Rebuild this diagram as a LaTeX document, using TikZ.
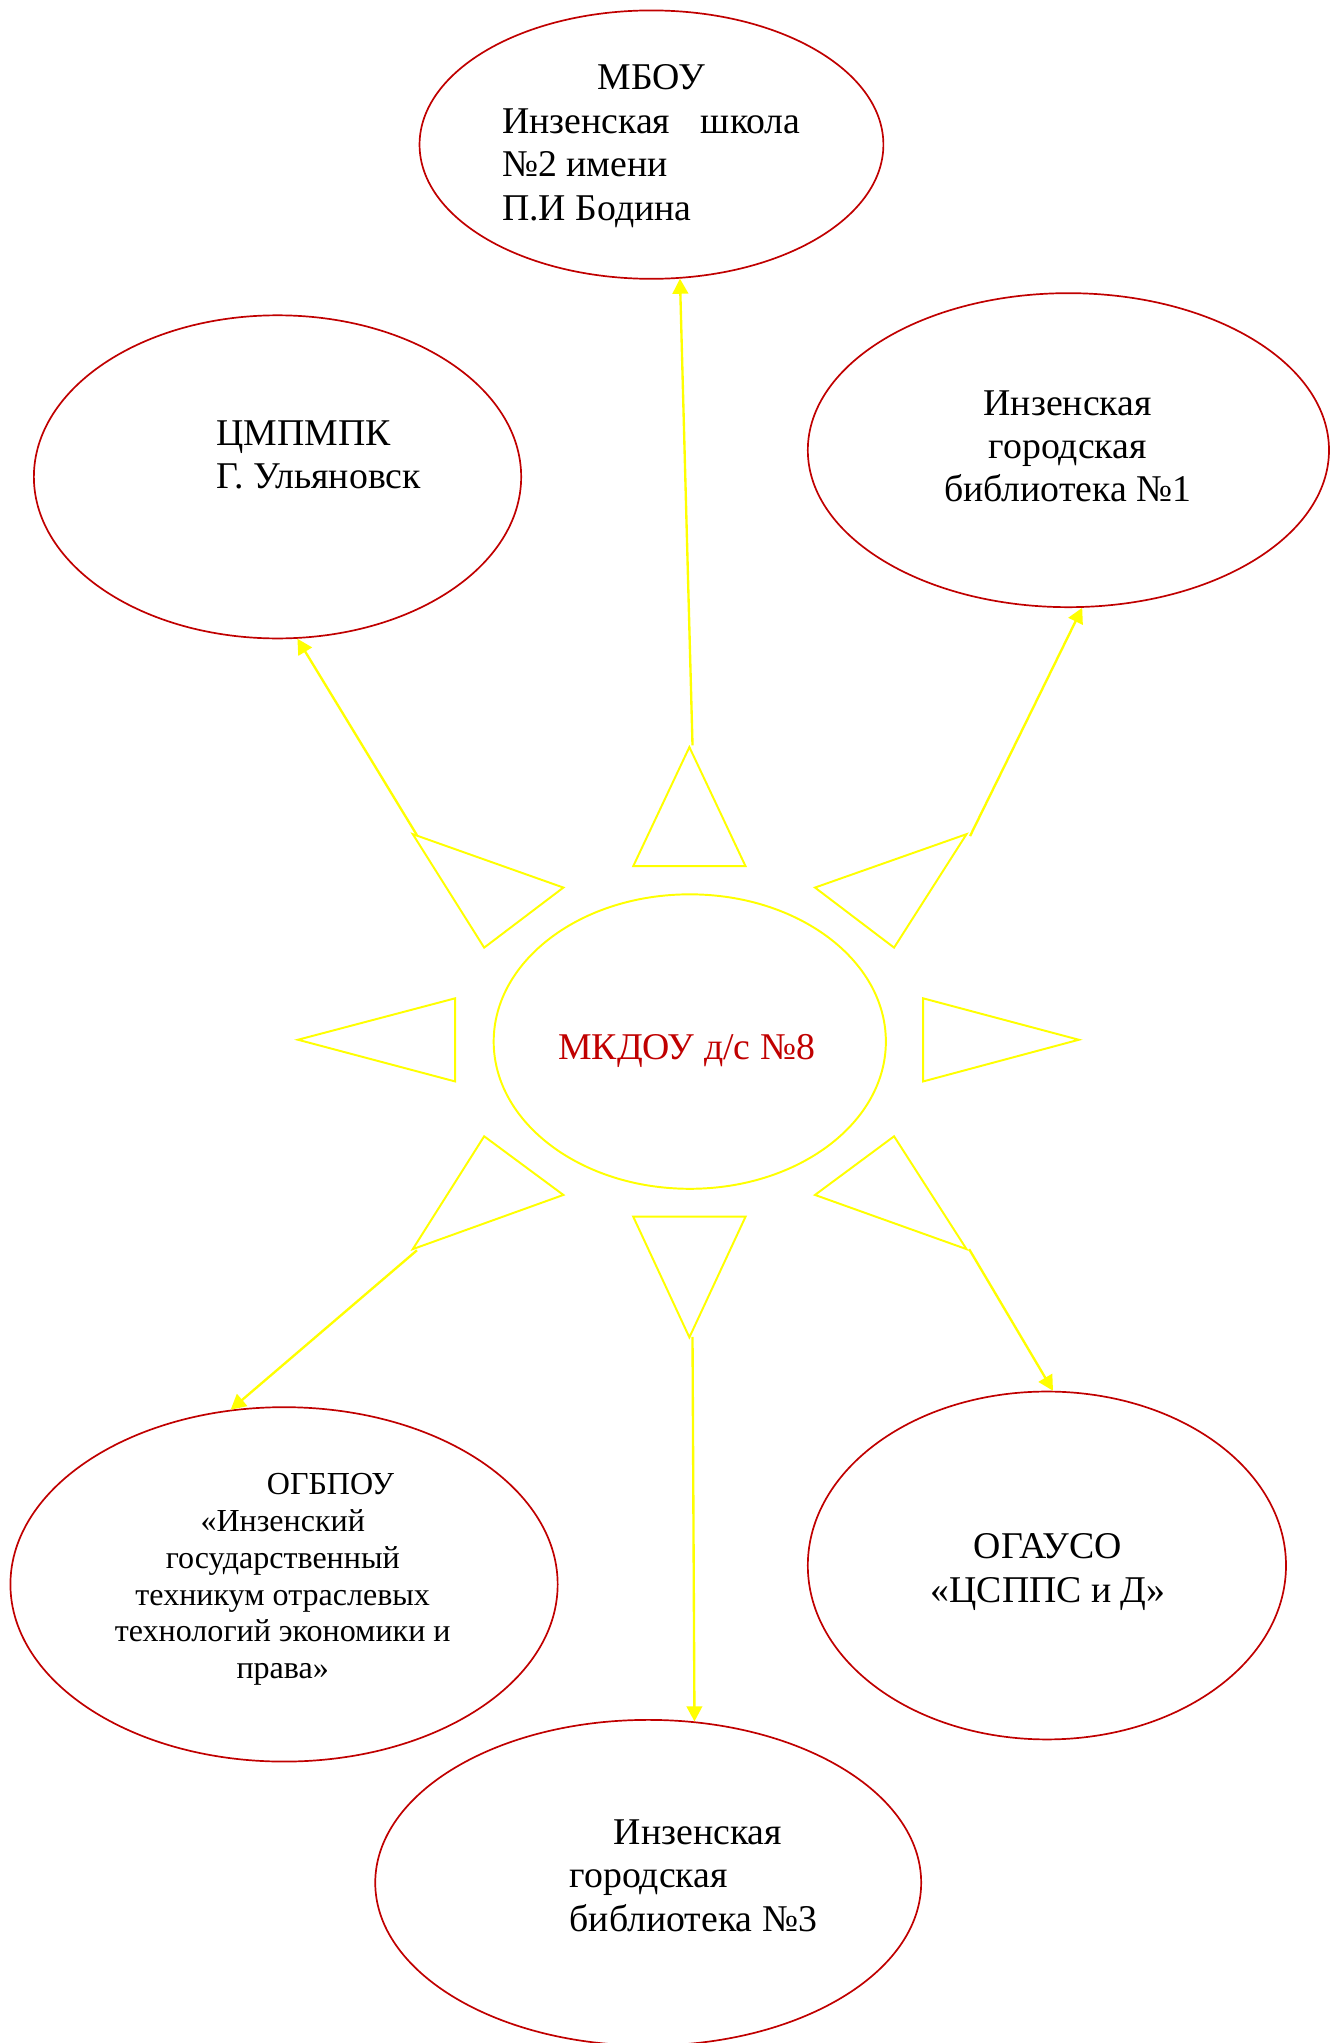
\documentclass[tikz,border=0pt]{standalone}
\usepackage{fontspec}
\setmainfont{Liberation Serif}
\usetikzlibrary{arrows.meta,shapes.geometric}
\definecolor{dred}{RGB}{192,0,0}
\definecolor{sun}{RGB}{255,255,0}
\begin{document}
\begin{tikzpicture}[x=0.5pt,y=0.5pt,
  org/.style={ellipse,draw=dred,line width=0.65pt,inner sep=0pt},
  ray/.style={draw=sun,line width=0.75pt,line join=miter},
  link/.style={draw=sun,line width=0.9pt,-{Triangle[length=5.8pt,width=6pt]}},
  lbl/.style={inner sep=0pt,font=\fontsize{14.5}{16.65}\selectfont},
  slbl/.style={inner sep=0pt,font=\fontsize{12.3}{14.15}\selectfont}]
\useasboundingbox (0,0) rectangle (1021,-1568);

% organisations
\node[org,minimum width=178pt,minimum height=103pt] (mbou) at (500,-111) {};
\node[org,minimum width=187pt,minimum height=124pt] (cmp) at (213,-366) {};
\node[org,minimum width=200pt,minimum height=120.5pt] (lib1) at (820,-345.5) {};
\node[org,minimum width=210pt,minimum height=136pt] (ogb) at (218,-1216) {};
\node[org,minimum width=183.5pt,minimum height=133.5pt] (oga) at (803.5,-1201.5) {};
\node[org,minimum width=209.5pt,minimum height=125pt] (lib3) at (497.5,-1445) {};

% sun
\node[ellipse,draw=sun,line width=0.75pt,inner sep=0pt,minimum width=150.5pt,minimum height=113pt] (sunc) at (529.4,-799.4) {};
\draw[ray] (529.1,-573.4) -- (486,-664.8) -- (572.2,-664.8) -- cycle;
\draw[ray] (316.8,-640.2) -- (432.4,-681.2) -- (371.6,-727.3) -- cycle;
\draw[ray] (741.8,-640.2) -- (625.5,-681.2) -- (686.2,-727.3) -- cycle;
\draw[ray] (228.7,-798) -- (349.3,-766.2) -- (349.3,-830) -- cycle;
\draw[ray] (828,-798) -- (708.5,-766.2) -- (708.5,-830) -- cycle;
\draw[ray] (371.6,-872.1) -- (432.4,-917.1) -- (316.8,-958.7) -- cycle;
\draw[ray] (486,-933.8) -- (572.2,-933.8) -- (529.1,-1026.4) -- cycle;
\draw[ray] (686.2,-872.1) -- (625.5,-917.1) -- (741.8,-958.7) -- cycle;

% ray tips where connectors start
\coordinate (s1) at (531.5,-572);
\coordinate (s2) at (320,-641);
\coordinate (s3) at (744.5,-641.7);
\coordinate (s4) at (320,-959.6);
\coordinate (s5) at (531.5,-1026);
\coordinate (s6) at (743.8,-958.7);

\draw[link] (s1) -- (mbou.-78.9);
\draw[link] (s2) -- (cmp.-83);
\draw[link] (s3) -- (lib1.-85.4);
\draw[link] (s4) -- (ogb.107.1);
\draw[link] (s5) -- (lib3.74.5);
\draw[link] (s6) -- (oga.88.3);

% texts
\node[lbl,anchor=base west] (tmbou) at (385,-69) {\begin{tabular}[t]{@{}l@{}}\makebox[114.5pt]{МБОУ}\\\makebox[114.5pt][s]{Инзенская\hfill школа}\\№2 имени\\П.И Бодина\end{tabular}};
\node[lbl,anchor=base west] (tcmp) at (165.8,-341.6) {\begin{tabular}[t]{@{}l@{}}ЦМПМПК\\Г. Ульяновск\end{tabular}};
\node[lbl,anchor=base] (tlib1) at (819.5,-318.6) {\begin{tabular}[t]{@{}c@{}}Инзенская\\городская\\библиотека №1\end{tabular}};
\node[lbl,anchor=base,text=dred] (tsun) at (527,-813.2) {МКДОУ д/с №8};
\node[lbl,anchor=base] (toga) at (804.4,-1196.3) {\begin{tabular}[t]{@{}c@{}}ОГАУСО\\«ЦСППС и Д»\end{tabular}};
\node[lbl,anchor=base west] (tlib3) at (436.8,-1415.6) {\begin{tabular}[t]{@{}l@{}}\hspace*{17pt}Инзенская\\городская\\библиотека №3\end{tabular}};
\node[slbl,anchor=base] (togb) at (217,-1147) {\begin{tabular}[t]{@{}c@{}}\hspace*{36.7pt}ОГБПОУ\\«Инзенский\\государственный\\техникум отраслевых\\технологий экономики и\\права»\end{tabular}};
\end{tikzpicture}
\end{document}
